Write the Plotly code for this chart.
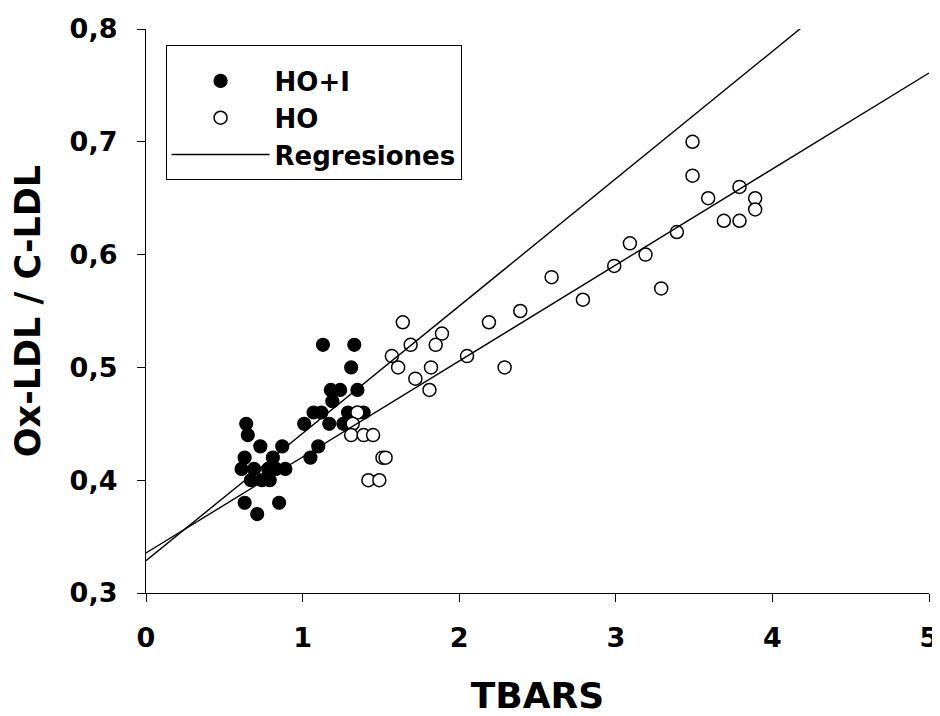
import plotly.graph_objects as go

# HO+I group (filled circles)
hoi_x = [1.13, 1.33, 1.31, 1.18, 1.24, 1.35, 1.19, 1.07, 1.12, 1.29, 1.39, 1.01, 1.17, 1.26,
         0.64, 0.65, 0.73, 0.87, 1.10, 0.63, 0.81, 1.05, 0.61, 0.69, 0.78, 0.83, 0.89,
         0.67, 0.74, 0.79, 0.63, 0.85, 0.71]
hoi_y = [0.52, 0.52, 0.50, 0.48, 0.48, 0.48, 0.47, 0.46, 0.46, 0.46, 0.46, 0.45, 0.45, 0.45,
         0.45, 0.44, 0.43, 0.43, 0.43, 0.42, 0.42, 0.42, 0.41, 0.41, 0.41, 0.41, 0.41,
         0.40, 0.40, 0.40, 0.38, 0.38, 0.37]

# HO group (open circles)
ho_x = [1.64, 1.69, 1.57, 1.61, 1.72, 1.35, 1.32, 1.31, 1.39, 1.45, 1.51, 1.53, 1.42, 1.49,
        1.89, 1.85, 1.82, 1.81, 2.05, 2.19, 2.39, 2.29, 3.49, 3.49, 3.59, 3.79, 3.89, 3.89,
        3.69, 3.79, 3.39, 3.09, 3.19, 2.99, 2.59, 2.79, 3.29]
ho_y = [0.54, 0.52, 0.51, 0.50, 0.49, 0.46, 0.45, 0.44, 0.44, 0.44, 0.42, 0.42, 0.40, 0.40,
        0.53, 0.52, 0.50, 0.48, 0.51, 0.54, 0.55, 0.50, 0.70, 0.67, 0.65, 0.66, 0.65, 0.64,
        0.63, 0.63, 0.62, 0.61, 0.60, 0.59, 0.58, 0.56, 0.57]

# Regression lines (intercept, slope)
reg_hoi = (0.3286, 0.1129)
reg_ho = (0.3355, 0.0851)
reg_x = [0, 5]

x_ticks = [0, 1, 2, 3, 4, 5]
y_ticks = [0.3, 0.4, 0.5, 0.6, 0.7, 0.8]

FONT = "DejaVu Sans, Liberation Sans, Arial, sans-serif"

fig = go.Figure()
fig.add_trace(go.Scatter(
    x=hoi_x, y=hoi_y, mode="markers", name="HO+I",
    marker=dict(size=13, color="black", line=dict(color="black", width=1.2)),
))
fig.add_trace(go.Scatter(
    x=ho_x, y=ho_y, mode="markers", name="HO",
    marker=dict(size=13, color="white", line=dict(color="black", width=1.5)),
))
fig.add_trace(go.Scatter(
    x=reg_x, y=[reg_hoi[0] + reg_hoi[1] * v for v in reg_x], mode="lines",
    name="Regresiones", legendgroup="reg", line=dict(color="black", width=1.4),
))
fig.add_trace(go.Scatter(
    x=reg_x, y=[reg_ho[0] + reg_ho[1] * v for v in reg_x], mode="lines",
    name="Regresiones", legendgroup="reg", showlegend=False,
    line=dict(color="black", width=1.4),
))

axis_common = dict(
    showgrid=False, zeroline=False, showline=True, linecolor="black", linewidth=1.3,
    ticks="outside", ticklen=8, tickwidth=1.3, tickcolor="black", automargin=False,
    tickfont=dict(family=FONT, size=27, color="black", weight="bold"),
)

fig.update_layout(
    width=932, height=708,
    paper_bgcolor="white", plot_bgcolor="white",
    margin=dict(l=138, r=11, t=21, b=123),
    separators=",.",
    showlegend=True,
    legend=dict(
        x=0.025, y=0.972, xanchor="left", yanchor="top",
        bgcolor="white", bordercolor="black", borderwidth=1,
        font=dict(family=FONT, size=26, color="black", weight="bold"),
        itemwidth=98, tracegroupgap=0,
        title=dict(text="&nbsp;", font=dict(family=FONT, size=9)),
    ),
    xaxis=dict(
        range=[0, 5], tickvals=x_ticks, ticklabelstandoff=12,
        title=dict(text="TBARS", standoff=41,
                   font=dict(family=FONT, size=36, color="black", weight="bold")),
        **axis_common,
    ),
    yaxis=dict(
        range=[0.3, 0.8], tickvals=y_ticks, tickformat=".1f", ticklabelstandoff=14,
        title=dict(text="Ox-LDL / C-LDL", standoff=24,
                   font=dict(family=FONT, size=35, color="black", weight="bold")),
        **axis_common,
    ),
)

fig.write_html("out.html")
